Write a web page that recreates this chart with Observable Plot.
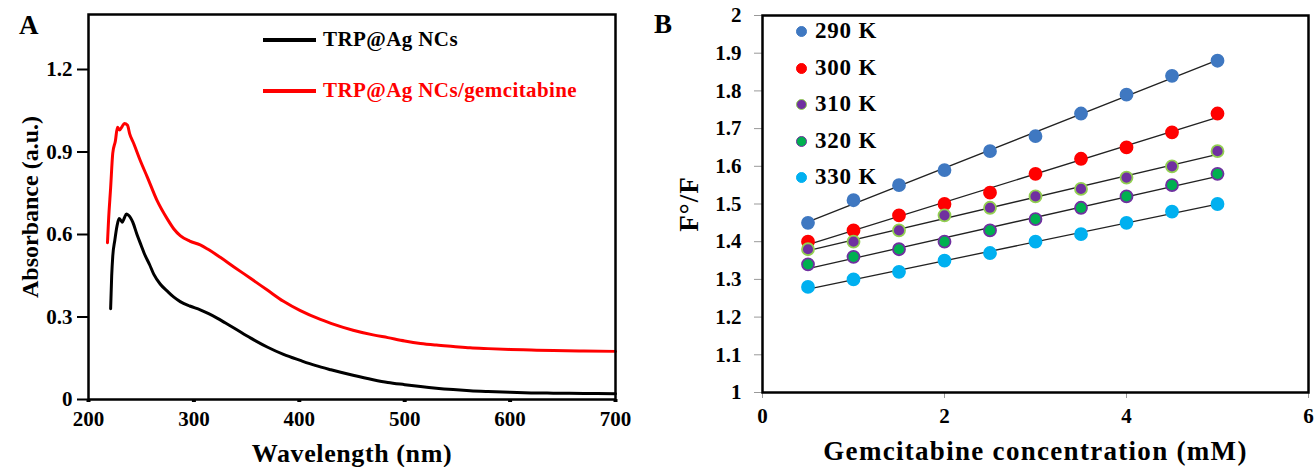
<!DOCTYPE html>
<html>
<head>
<meta charset="utf-8">
<script src="https://cdn.jsdelivr.net/npm/d3@7"></script>
<script src="https://cdn.jsdelivr.net/npm/@observablehq/plot@0.6"></script>
<style>
  body { margin: 0; background: #fff; }
  #wrap { position: relative; width: 1315px; height: 467px; font-family: "Liberation Serif", "Times New Roman", Times, serif; font-weight: bold; }
  .pane { position: absolute; top: 0; }
  .letter { position: absolute; font-size: 27px; font-weight: bold; }
  .leg { position: absolute; white-space: nowrap; font-weight: bold; }
  svg text { font-family: "Liberation Serif", "Times New Roman", Times, serif; font-weight: bold; }
  #pa g[aria-label="x-axis label"] text { font-size: 26px; letter-spacing: 0.6px; }
  #pa g[aria-label="y-axis label"] text { font-size: 24px; }
  #pb g[aria-label="x-axis label"] text { font-size: 27px; letter-spacing: 1.3px; }
  #pb g[aria-label="y-axis label"] text { font-size: 27px; letter-spacing: 1px; }
</style>
</head>
<body>
<div id="wrap">
  <div id="pa" class="pane" style="left:0"></div>
  <div id="pb" class="pane" style="left:640px"></div>
  <div class="letter" style="left:19px;top:10px">A</div>
  <div class="letter" style="left:654px;top:9px">B</div>
</div>
<script>
// ---------- Panel A data ----------
const seriesA = ["TRP@Ag NCs", "TRP@Ag NCs/gemcitabine"];
const colorsA = ["#000000", "#ff0000"];
const wlBlack = [221,222,223,225,227,229,231,232,234,236,238,240,242,246,250,253,258,262,268,275,281,287,296,306,314,322,330,338,354,370,385,401,415,430,451,470,484,500,515,530,546,562,579,600,620,641,670,700];
const absBlack = [0.33,0.45,0.52,0.58,0.63,0.658,0.65,0.645,0.66,0.675,0.67,0.66,0.645,0.60,0.56,0.53,0.49,0.455,0.42,0.393,0.372,0.356,0.34,0.326,0.312,0.296,0.278,0.26,0.223,0.19,0.164,0.142,0.124,0.108,0.088,0.072,0.062,0.054,0.047,0.041,0.036,0.032,0.029,0.026,0.024,0.023,0.022,0.021];
const wlRed = [218,219,221,223,225.5,227.5,229.5,232,234,237,239,243,249,256,265,275,281,287,296,306,313,325,338,354,370,385,401,420,430,451,470,484,500,515,530,546,562,579,600,620,641,670,700];
const absRed = [0.57,0.65,0.77,0.895,0.94,0.99,0.98,0.993,1.004,0.997,0.967,0.93,0.87,0.807,0.724,0.655,0.62,0.596,0.576,0.562,0.547,0.517,0.482,0.44,0.397,0.357,0.323,0.291,0.277,0.252,0.235,0.225,0.213,0.204,0.198,0.193,0.188,0.185,0.182,0.18,0.178,0.176,0.175];
const xTicksA = [200,300,400,500,600,700];
const yTicksA = [0,0.3,0.6,0.9,1.2];

// ---------- Panel B data ----------
const concentrations = [0.5,1,1.5,2,2.5,3,3.5,4,4.5,5];
const temps = ["290 K","300 K","310 K","320 K","330 K"];
const fill290 = [1.45,1.51,1.55,1.59,1.64,1.68,1.74,1.79,1.84,1.88];
const fill300 = [1.40,1.43,1.47,1.50,1.53,1.58,1.62,1.65,1.69,1.74];
const fill310 = [1.38,1.40,1.43,1.47,1.49,1.52,1.54,1.57,1.60,1.64];
const fill320 = [1.34,1.36,1.38,1.40,1.43,1.46,1.49,1.52,1.55,1.58];
const fill330 = [1.28,1.30,1.32,1.35,1.37,1.40,1.42,1.45,1.48,1.50];
const ratiosB = [fill290, fill300, fill310, fill320, fill330];
const fillsB = ["#3f78c1", "#ff0000", "#7030a0", "#00b050", "#00b0f0"];
const strokesB = ["#3f78c1", "#ff0000", "#92d050", "#7030a0", "#00b0f0"];
const xTicksB = [0,2,4,6];
const yTicksB = d3.range(10, 21).map(d => d / 10);

// ---------- Panel A ----------
const dataA = [
  ...wlBlack.map((w, i) => ({w, a: absBlack[i], s: seriesA[0]})),
  ...wlRed.map((w, i) => ({w, a: absRed[i], s: seriesA[1]}))
];
const plotA = Plot.plot({
  width: 640, height: 467,
  marginLeft: 88, marginRight: 25, marginTop: 14, marginBottom: 68,
  style: {fontFamily: "'Liberation Serif', 'Times New Roman', serif", fontSize: "21px", fontWeight: "bold", color: "black", background: "white"},
  x: {domain: [200, 700]},
  y: {domain: [0, 1.4]},
  color: {domain: seriesA, range: colorsA},
  marks: [
    Plot.axisY({ticks: yTicksA, tickSize: 11, tickPadding: 5, strokeWidth: 2,
      tickFormat: d => d === 0 ? "0" : d.toFixed(1),
      label: "Absorbance (a.u.)", labelArrow: "none", labelAnchor: "center", labelOffset: 68}),
    Plot.axisX({ticks: xTicksA, tickSize: 3, tickPadding: 9, strokeWidth: 4,
      tickFormat: d => String(d),
      label: "Wavelength (nm)", labelArrow: "none", labelAnchor: "center", labelOffset: 62}),
    Plot.line(dataA, {x: "w", y: "a", z: "s", stroke: "s", strokeWidth: 3, curve: "monotone-x"}),
    Plot.frame({stroke: "black", strokeWidth: 2.5})
  ]
});
document.getElementById("pa").appendChild(plotA);

// ---------- Panel B ----------
const dataB = [];
temps.forEach((t, k) => concentrations.forEach((c, i) => dataB.push({c, r: ratiosB[k][i], t})));
const plotB = Plot.plot({
  width: 675, height: 467,
  marginLeft: 122, marginRight: 7, marginTop: 15, marginBottom: 75,
  style: {fontFamily: "'Liberation Serif', 'Times New Roman', serif", fontSize: "21px", fontWeight: "bold", color: "black", background: "white"},
  x: {domain: [0, 6]},
  y: {domain: [1, 2]},
  color: {domain: temps, range: fillsB},
  marks: [
    Plot.axisY({ticks: yTicksB, tickSize: 8, tickPadding: 13, stroke: "#999",
      tickFormat: d => Number.isInteger(d) ? String(d) : d.toFixed(1),
      label: "F°/F", labelArrow: "none", labelAnchor: "center", labelOffset: 84}),
    Plot.axisX({ticks: xTicksB, tickSize: 6, tickPadding: 10, stroke: "#999",
      tickFormat: d => String(d),
      label: "Gemcitabine concentration (mM)", labelArrow: "none", labelAnchor: "center", labelOffset: 67}),
    Plot.linearRegressionY(dataB, {x: "c", y: "r", z: "t", stroke: "#222", strokeWidth: 1.3, ci: 0}),
    Plot.dot(dataB, {x: "c", y: "r", r: 6, fill: "t",
      stroke: d => strokesB[temps.indexOf(d.t)], strokeWidth: 1.8}),
    Plot.frame({stroke: "black", strokeWidth: 2.5})
  ]
});
document.getElementById("pb").appendChild(plotB);

// ---------- Legends ----------
const wrap = document.getElementById("wrap");
seriesA.forEach((s, i) => {
  const top = [40, 91][i];
  const sw = document.createElement("div");
  sw.style.cssText = `position:absolute;left:263px;top:${top - 2}px;width:53px;height:4px;background:${colorsA[i]}`;
  wrap.appendChild(sw);
  const tx = document.createElement("div");
  tx.className = "leg";
  tx.textContent = s;
  tx.style.cssText += `left:323px;top:${top - 13}px;font-size:21px;color:${colorsA[i]};letter-spacing:0.4px`;
  wrap.appendChild(tx);
});
temps.forEach((t, i) => {
  const cy = 32 + i * 36.6;
  const dot = document.createElement("div");
  dot.style.cssText = `position:absolute;left:${802 - 6}px;top:${cy - 6}px;width:9px;height:9px;border-radius:50%;background:${fillsB[i]};border:1.6px solid ${strokesB[i]}`;
  wrap.appendChild(dot);
  const tx = document.createElement("div");
  tx.className = "leg";
  tx.textContent = t;
  tx.style.cssText += `left:815px;top:${cy - 14}px;font-size:23px;color:#000;letter-spacing:0.8px`;
  wrap.appendChild(tx);
});
</script>
</body>
</html>
